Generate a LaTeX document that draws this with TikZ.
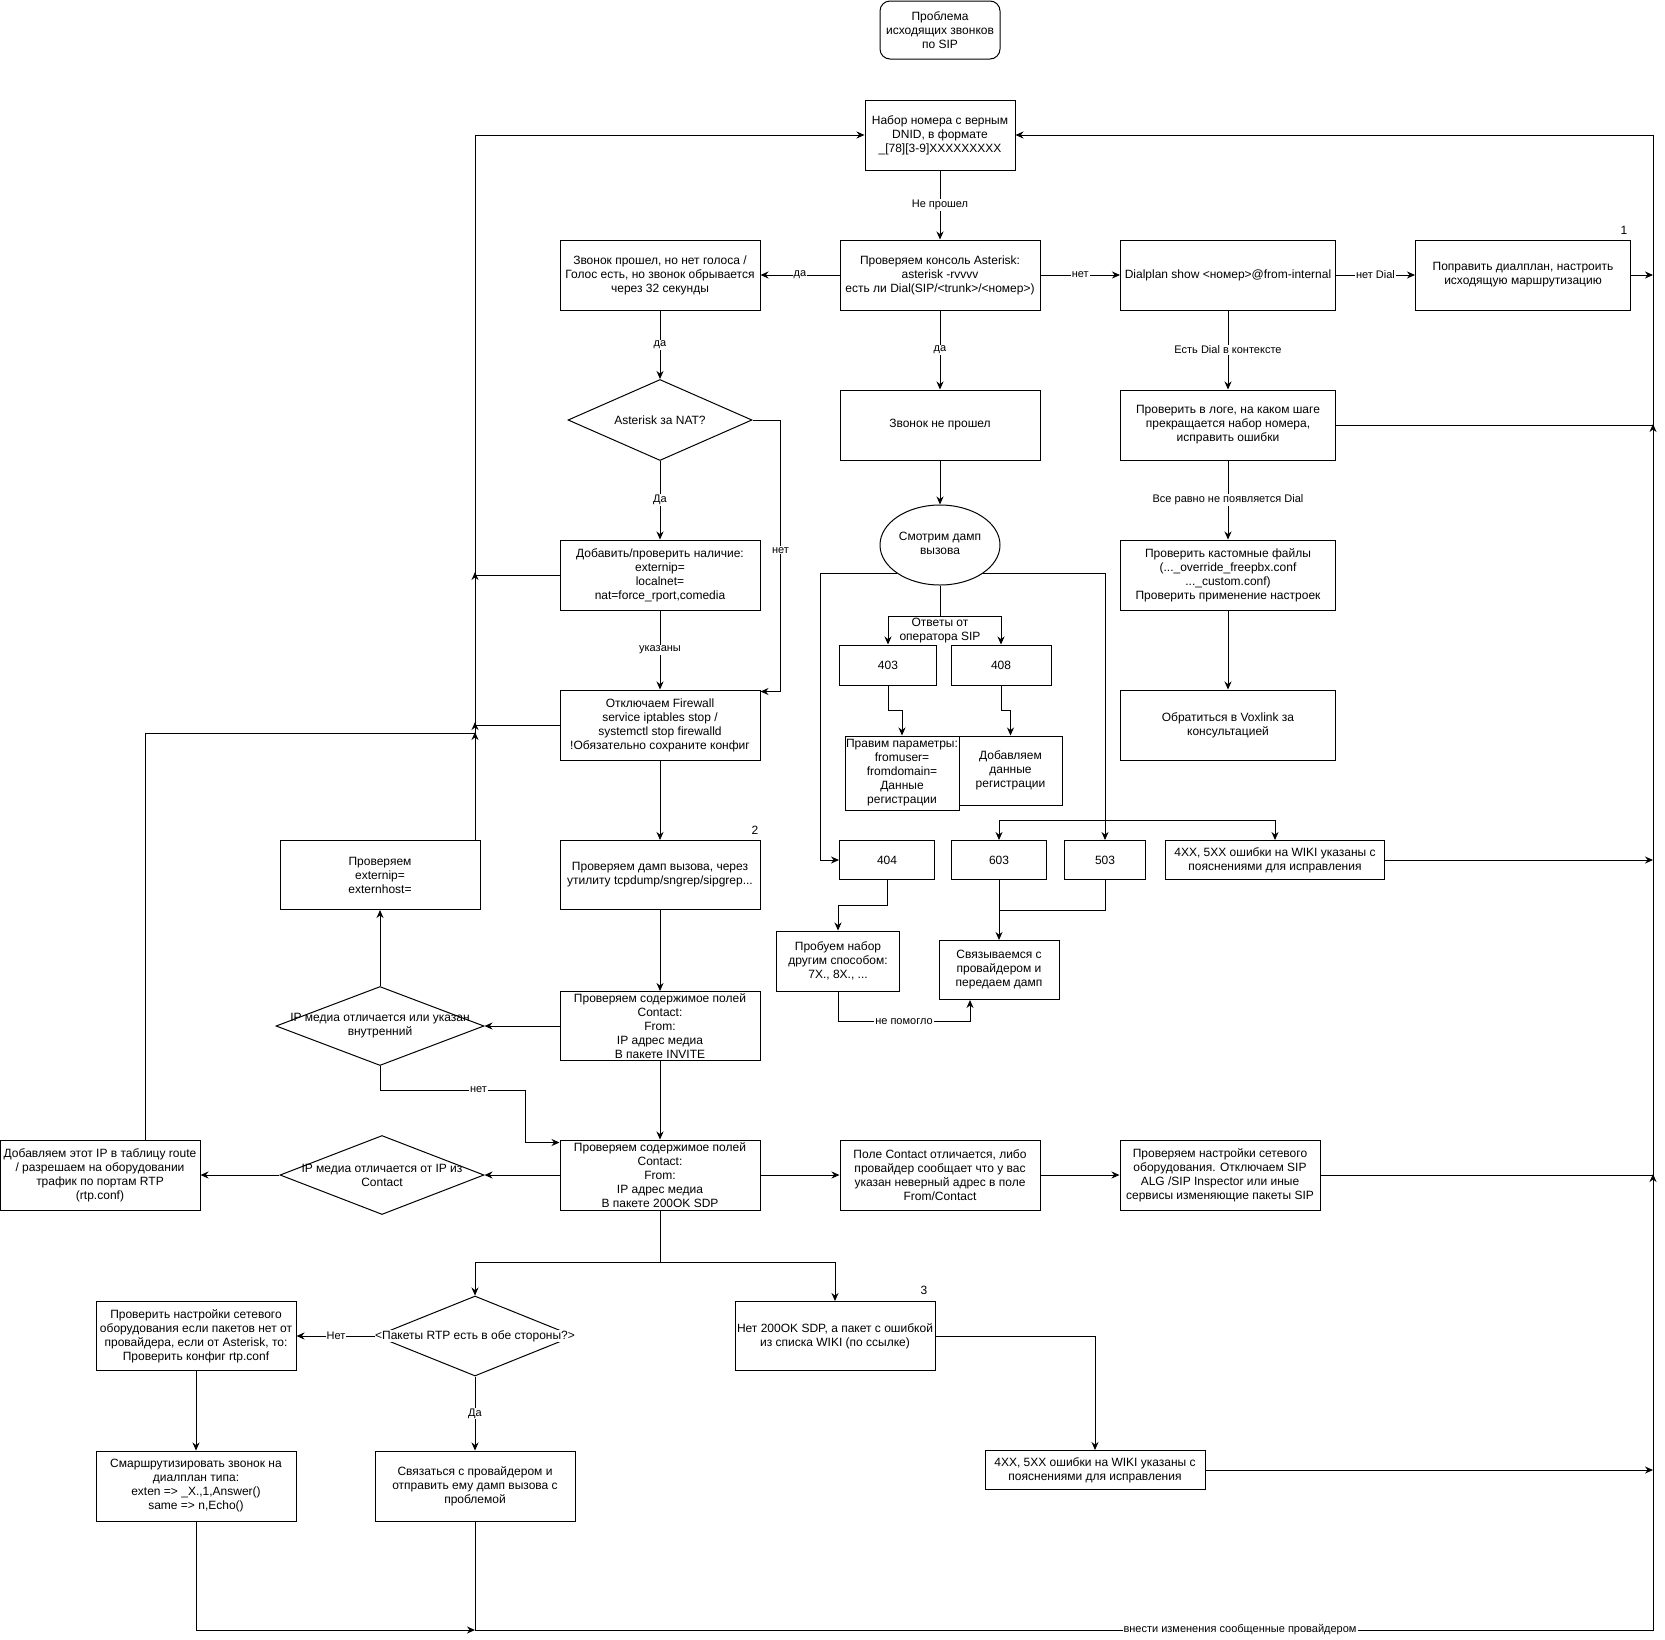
\documentclass[tikz,border=0pt]{standalone}
\usepackage{fontspec}
\setmainfont{Liberation Sans}
\usetikzlibrary{arrows.meta,shapes.geometric,calc}
\newcommand{\boxfont}{\fontsize{12}{14}\selectfont}
\newcommand{\lblfont}{\fontsize{11}{13}\selectfont}
\begin{document}
\begin{tikzpicture}[x=1pt,y=-1pt,line width=1pt,
  >={Stealth[length=8pt,width=7pt]},
  box/.style={draw,rectangle,minimum width=200pt,minimum height=70pt,align=center,font=\boxfont,inner sep=1pt},
  dia/.style={draw,diamond,inner sep=0pt},
  txt/.style={align=center,font=\boxfont,inner sep=0pt},
  dtxt/.style={align=center,font=\boxfont,inner sep=0.5pt,fill=white},
  lbl/.style={fill=white,inner sep=1pt,font=\lblfont,align=center}]
\path[fill=white,use as bounding box] (0,0) rectangle (1665,1639);
\coordinate (LB) at (475,0);
\coordinate (BR) at (1653,1630);
\coordinate (LD) at (820,0);
\coordinate (K) at (525,1090);
\coordinate (J) at (1105,820);

% nodes
\node[box,rounded corners=10pt,minimum width=120pt,minimum height=58pt] (top) at (940,30) {Проблема\\исходящих звонков\\по SIP};
\node[box,minimum width=150pt] (nabor) at (940,135) {Набор номера с верным\\DNID, в формате\\\_[78][3-9]XXXXXXXXX};
\node[box] (konsol) at (940,275) {Проверяем консоль Asterisk:\\asterisk -rvvvv\\есть ли Dial(SIP/<trunk>/<номер>)};
\node[box] (proshel) at (660,275) {Звонок прошел, но нет голоса /\\Голос есть, но звонок обрывается\\через 32 секунды};
\node[box,minimum width=215pt] (dialplan) at (1228,275) {Dialplan show <номер>@from-internal};
\node[box,minimum width=215pt] (popravit) at (1523,275) {Поправить диалплан, настроить\\исходящую маршрутизацию};
\node[box] (neproshel) at (940,425) {Звонок не прошел};
\node[box,minimum width=215pt] (log) at (1228,425) {Проверить в логе, на каком шаге\\прекращается набор номера,\\исправить ошибки};
\node[dia,minimum width=184pt,minimum height=81pt] (nat) at (660,420) {};
\node[txt] (natt) at (nat) {Asterisk за NAT?};
\node[draw,ellipse,minimum width=120pt,minimum height=80pt,inner sep=0pt] (dump) at (940,545) {};
\node[txt] (dumpt) at (940,543) {Смотрим дамп\\вызова};
\node[box] (dobavit) at (660,575) {Добавить/проверить наличие:\\externip=\\localnet=\\nat=force\_rport,comedia};
\node[box,minimum width=215pt] (custom) at (1228,575) {Проверить кастомные файлы\\(...\_override\_freepbx.conf\\...\_custom.conf)\\Проверить применение настроек};
\node[box] (firewall) at (660,725) {Отключаем Firewall\\service iptables stop /\\systemctl stop firewalld\\!Обязательно сохраните конфиг};
\node[box,minimum width=215pt] (voxlink) at (1228,725) {Обратиться в Voxlink за\\консультацией};
\node[box,minimum width=97pt,minimum height=40pt] (n403) at (888,665) {403};
\node[box,minimum width=100pt,minimum height=40pt] (n408) at (1001,665) {408};
\node[box,minimum width=114pt,minimum height=74pt] (pravim) at (902,773) {Правим параметры:\\fromuser=\\fromdomain=\\Данные\\регистрации};
\node[box,minimum width=103pt,minimum height=69pt] (dobavl) at (1010.5,770.5) {Добавляем\\данные\\регистрации};
\node[box,minimum width=95pt,minimum height=39pt] (n404) at (887,860) {404};
\node[box,minimum width=95pt,minimum height=39pt] (n603) at (999,860) {603};
\node[box,minimum width=81pt,minimum height=39pt] (n503) at (1105,860) {503};
\node[box,minimum width=219pt,minimum height=39pt] (wiki1) at (1275,860) {4XX, 5XX ошибки на WIKI указаны с\\пояснениями для исправления};
\node[box,minimum height=69pt] (externip) at (380,875) {Проверяем\\externip=\\externhost=};
\node[box,minimum height=69pt] (dumpcheck) at (660,875) {Проверяем дамп вызова, через\\утилиту tcpdump/sngrep/sipgrep...};
\node[box,minimum width=123pt,minimum height=60pt] (probuem) at (838,961) {Пробуем набор\\другим способом:\\7X., 8X., ...};
\node[box,minimum width=120pt,minimum height=59pt] (svyaz) at (999,970) {Связываемся с\\провайдером и\\передаем дамп};
\node[dia,minimum width=208pt,minimum height=79pt] (ipm1) at (380,1026) {};
\node[txt] (ipm1t) at (ipm1) {IP медиа отличается или указан\\внутренний};
\node[box,minimum height=69pt] (invite) at (660,1026) {Проверяем содержимое полей\\Contact:\\From:\\IP адрес медиа\\В пакете INVITE};
\node[box] (addip) at (100,1175) {Добавляем этот IP в таблицу route\\/ разрешаем на оборудовании\\трафик по портам RTP\\(rtp.conf)};
\node[dia,minimum width=204pt,minimum height=79pt] (ipm2) at (382,1175) {};
\node[txt] (ipm2t) at (ipm2) {IP медиа отличается от IP из\\Contact};
\node[box] (ok200) at (660,1175) {Проверяем содержимое полей\\Contact:\\From:\\IP адрес медиа\\В пакете 200OK SDP};
\node[box] (pole) at (940,1175) {Поле Contact отличается, либо\\провайдер сообщает что у вас\\указан неверный адрес в поле\\From/Contact};
\node[box] (netset) at (1220,1175) {Проверяем настройки сетевого\\оборудования. Отключаем SIP\\ALG /SIP Inspector или иные\\сервисы изменяющие пакеты SIP};
\node[dia,minimum width=198pt,minimum height=80pt] (rtp) at (475,1336) {};
\node[dtxt] (rtpt) at (rtp) {<Пакеты RTP есть в обе стороны?>};
\node[box,minimum height=69pt] (checknet) at (196,1336) {Проверить настройки сетевого\\оборудования если пакетов нет от\\провайдера, если от Asterisk, то:\\Проверить конфиг rtp.conf};
\node[box,minimum height=69pt] (no200) at (835,1336) {Нет 200OK SDP, а пакет с ошибкой\\из списка WIKI (по ссылке)};
\node[box] (route) at (196,1486) {Смаршрутизировать звонок на\\диалплан типа:\\exten => \_X.,1,Answer()\\same => n,Echo()};
\node[box] (svyazat) at (475,1486) {Связаться с провайдером и\\отправить ему дамп вызова с\\проблемой};
\node[box,minimum width=220pt,minimum height=39pt] (wiki2) at (1095,1470) {4XX, 5XX ошибки на WIKI указаны с\\пояснениями для исправления};
\node[txt] (num1) at (1624,230) {1};
\node[txt] (num2) at (755,830) {2};
\node[txt] (num3) at (924,1290) {3};

% connectors top
\draw[->] (nabor) -- node[lbl]{Не прошел} (konsol);
\draw[->] (konsol) -- node[lbl]{да} (proshel);
\draw[->] (konsol) -- node[lbl]{нет} (dialplan);
\draw[->] (dialplan) -- node[lbl]{нет Dial} (popravit);
\draw[->] (popravit.east) -- (popravit.east -| BR);
\draw[->] (dialplan) -- node[lbl]{Есть Dial в контексте} (log);
\draw[->] (log) -- node[lbl]{Все равно не появляется Dial} (custom);
\draw[->] (custom) -- (voxlink);
\draw (log.east) -- (log.east -| BR);
\draw[->] ($(log.east -| BR)+(0,8)$) -- ++(0,-9);
\draw[->] (konsol) -- node[lbl]{да} (neproshel);
\draw[->] (neproshel) -- (dump);
\draw[->] (proshel) -- node[lbl]{да} (nat);
\draw[->] (nat) -- node[lbl]{Да} (dobavit);
\draw[->] (nat.east) -- ++(28,0) |- node[lbl,pos=0.24]{нет} ([yshift=-2pt]firewall.north east);
\draw[->] (dobavit) -- node[lbl]{указаны} (firewall);
\draw (dobavit.west) -- (dobavit.west -| LB);
\draw[->] ($(dobavit.west -| LB)+(0,6)$) -- ++(0,-9);
\draw (firewall.west) -- (firewall.west -| LB);
\draw[->] ($(firewall.west -| LB)+(0,6)$) -- ++(0,-9);
\draw ([xshift=45pt]addip.north) |- ($(firewall.west -| LB)+(0,8)$);
\draw[->] ($(firewall.west -| LB)+(0,16)$) -- ++(0,-9);
\draw[->] ([xshift=-5pt]externip.north east) |- (nabor.west);
\draw[->] (firewall) -- (dumpcheck);
\draw[->] (dumpcheck) -- (invite);
\draw[->] (invite) -- (ipm1);
\draw[->] (ipm1) -- (externip);
\draw[->] (ipm1.south) |- node[lbl,pos=0.84]{нет} (K) |- ([yshift=-3pt]ok200.north west);
\draw[->] (invite) -- (ok200);
\draw[->] (ok200) -- (ipm2);
\draw[->] (ipm2) -- (addip);
\draw[->] (ok200) -- (pole);
\draw[->] (pole) -- (netset);
\draw (netset.east) -- (netset.east -| BR);
\draw[->] ($(netset.east -| BR)+(0,8)$) -- ++(0,-9);
\draw (ok200.south) -- ++(0,52) coordinate (S2);
\draw[->] (S2) -| (rtp.north);
\draw[->] (S2) -| (no200.north);
\draw[->] (rtp) -- node[lbl]{Нет} (checknet);
\draw[->] (rtp) -- node[lbl]{Да} (svyazat);
\draw[->] (checknet) -- (route);
\draw[->] (route.south) |- (svyazat.south |- BR);
\draw[->] (svyazat.south) |- (BR) |- (nabor.east);
\node[lbl] (vnesti) at (1240,1630) {внести изменения сообщенные провайдером};
\draw[->] (no200.east) -| (wiki2.north);
\draw[->] (wiki2.east) -- (wiki2.east -| BR);
\draw[->] (wiki1.east) -- (wiki1.east -| BR);

% dump branches
\draw (dump.south) -- ++(0,31) coordinate (S1);
\draw[->] (S1) -| (n403.north);
\draw[->] (S1) -| (n408.north);
\node[txt] (otvety) at (940,631) {Ответы от\\оператора SIP};
\draw[->] (dump.south west) -- (dump.south west -| LD) |- (n404.west);
\draw[->] (dump.south east) -| (n503.north);
\draw[->] (J) -| (n603.north);
\draw[->] (J) -| (wiki1.north);
\draw[->] (n403.south) -- ++(0,25) -| (pravim.north);
\draw[->] (n408.south) -- ++(0,25) -| (dobavl.north);
\draw[->] (n404.south) -- ++(0,25) -| (probuem.north);
\draw[->] (n603) -- (svyaz);
\draw (n503.south) |- ($(n603.south)+(0,30)$);
\draw[->] (probuem.south) -- ++(0,30) -| node[lbl,pos=0.25]{не помогло} ([xshift=-29pt]svyaz.south);
\end{tikzpicture}
\end{document}
